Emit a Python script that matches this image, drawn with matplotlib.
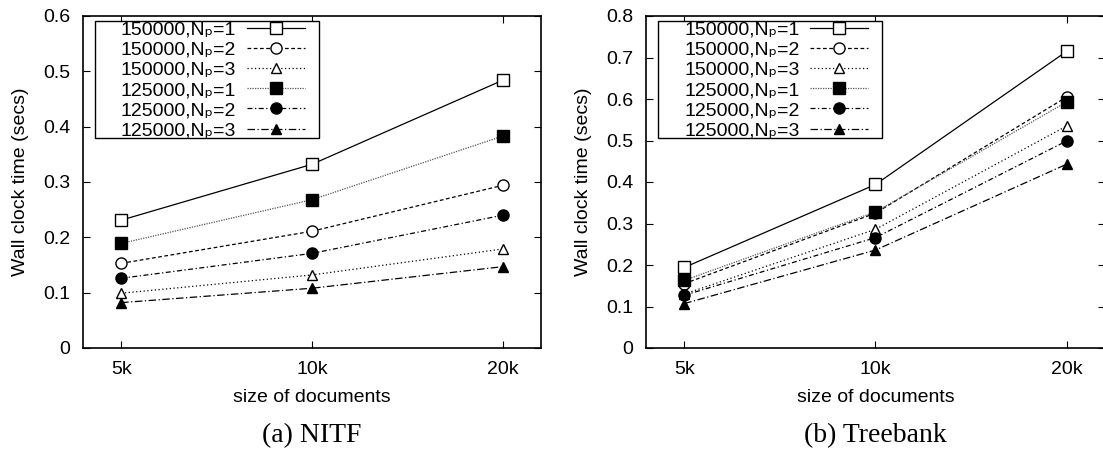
import matplotlib
matplotlib.use("Agg")
import matplotlib.pyplot as plt
from matplotlib.patches import Rectangle

sizes = ["5k", "10k", "20k"]
labels = ["150000,N\u209a=1", "150000,N\u209a=2", "150000,N\u209a=3",
          "125000,N\u209a=1", "125000,N\u209a=2", "125000,N\u209a=3"]

nitf_150k_p1 = [0.231, 0.332, 0.484]
nitf_150k_p2 = [0.153, 0.211, 0.294]
nitf_150k_p3 = [0.099, 0.132, 0.179]
nitf_125k_p1 = [0.189, 0.268, 0.383]
nitf_125k_p2 = [0.126, 0.171, 0.240]
nitf_125k_p3 = [0.082, 0.108, 0.147]

tb_150k_p1 = [0.194, 0.394, 0.715]
tb_150k_p2 = [0.155, 0.325, 0.605]
tb_150k_p3 = [0.130, 0.286, 0.535]
tb_125k_p1 = [0.163, 0.328, 0.593]
tb_125k_p2 = [0.127, 0.266, 0.499]
tb_125k_p3 = [0.107, 0.236, 0.443]

styles = [
    dict(ls="-", marker="s", mfc="white", color="black", lw=0.9),
    dict(ls=(0, (3, 2)), marker="o", mfc="white", color="black", lw=0.9),
    dict(ls=(0, (1, 2)), marker="^", mfc="white", color="black", lw=0.9),
    dict(ls=(0, (1, 1)), marker="s", mfc="black", color="#555555", mec="black", lw=0.9),
    dict(ls=(0, (4, 2, 1, 2)), marker="o", mfc="black", color="black", lw=0.9),
    dict(ls=(0, (6, 2, 1, 2)), marker="^", mfc="black", color="black", lw=0.9),
]
msizes = [8, 8, 7, 8, 8, 7]

plt.rcParams['font.family'] = ['Liberation Sans', 'DejaVu Sans']

fig = plt.figure(figsize=(11.03, 4.54), dpi=100)
W, H = 1103, 454
FS = 14
TOP, BOT = 16, 348

def make_ax(x0, x1, series, ymax, yticks, caption):
    aw, ah = x1 - x0, BOT - TOP
    ax = fig.add_axes([x0 / W, 1 - BOT / H, aw / W, ah / H])
    xs = list(range(len(sizes)))
    for ys, st, ms, lab in zip(series, styles, msizes, labels):
        ax.plot(xs, ys, label=lab, markersize=ms, mew=1.0,
                mec=st.get("mec", "black"), **{k: v for k, v in st.items() if k != "mec"})
    ax.set_xlim(-0.2, 2.2)
    ax.set_ylim(0, ymax)
    ax.set_xticks(xs)
    ax.set_xticklabels(sizes)
    ax.set_yticks(yticks)
    ax.set_yticklabels(["0" if t == 0 else f"{t:.1f}" for t in yticks])
    ax.tick_params(direction="in", top=True, right=True, length=5, width=0.8,
                   labelsize=FS, pad=9)
    for s in ax.spines.values():
        s.set_linewidth(1.2)
    ax.set_xlabel("size of documents", fontsize=FS, labelpad=8)
    ax.set_ylabel("Wall clock time (secs)", fontsize=FS, labelpad=10)
    # legend frame box (pixel offsets relative to the axes' top-left corner)
    bx0, bx1, by0, by1 = 12, 236, 5, 122
    ax.add_patch(Rectangle((bx0 / aw, 1 - by1 / ah), (bx1 - bx0) / aw, (by1 - by0) / ah,
                           transform=ax.transAxes, facecolor="white", edgecolor="black",
                           lw=1.0, zorder=4.5, clip_on=False))
    leg = ax.legend(loc="upper left", bbox_to_anchor=(38 / aw, 1 - 5 / ah), markerfirst=False,
                    fontsize=FS, handlelength=3.0, labelspacing=0.13, borderpad=0.0,
                    handletextpad=0.55, frameon=False, borderaxespad=0)
    fig.text((x0 + x1) / 2 / W, 1 - 436 / H, caption, ha="center", va="center",
             fontsize=20, family="Liberation Serif")
    return ax

make_ax(83, 541, [nitf_150k_p1, nitf_150k_p2, nitf_150k_p3, nitf_125k_p1, nitf_125k_p2, nitf_125k_p3],
        0.6, [0, 0.1, 0.2, 0.3, 0.4, 0.5, 0.6], "(a) NITF")
make_ax(646, 1105, [tb_150k_p1, tb_150k_p2, tb_150k_p3, tb_125k_p1, tb_125k_p2, tb_125k_p3],
        0.8, [0, 0.1, 0.2, 0.3, 0.4, 0.5, 0.6, 0.7, 0.8], "(b) Treebank")

fig.savefig("out.png", dpi=100)
